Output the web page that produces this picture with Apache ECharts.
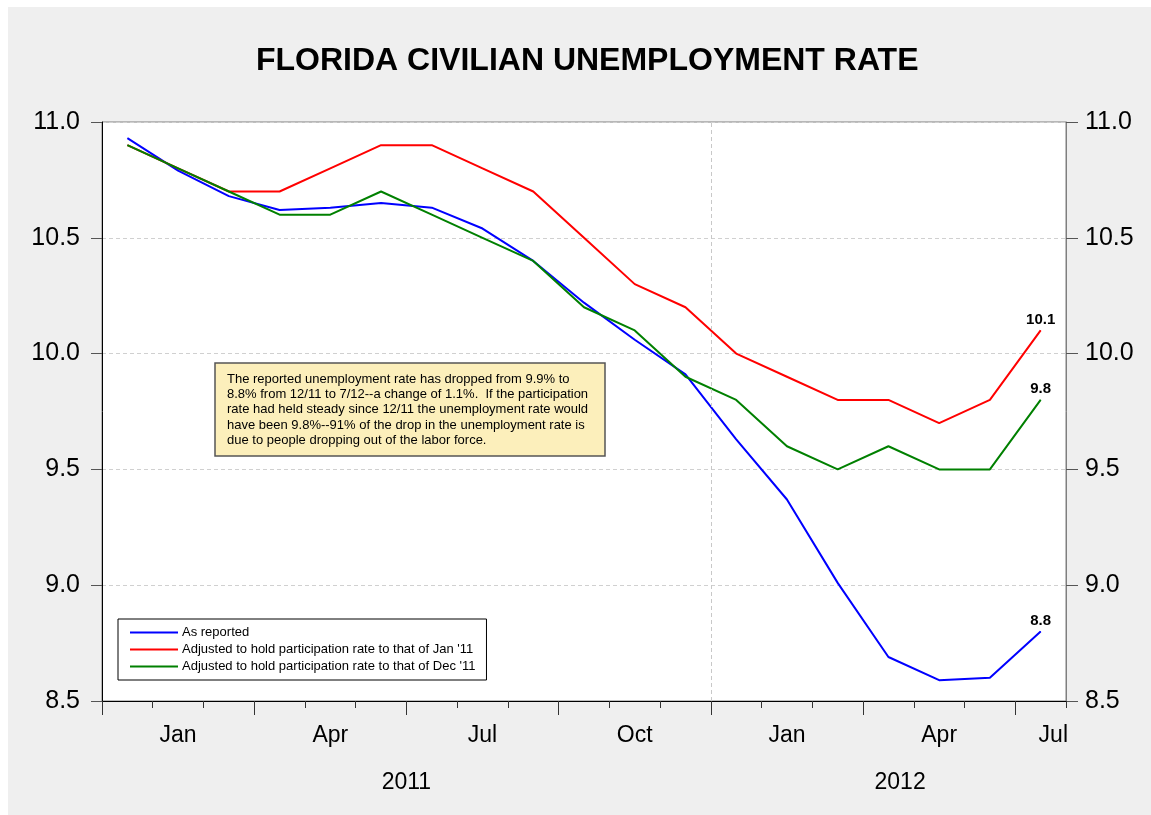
<!DOCTYPE html>
<html>
<head>
<meta charset="utf-8">
<script src="https://cdn.jsdelivr.net/npm/echarts@6/dist/echarts.min.js"></script>
<style>
html,body{margin:0;padding:0;background:#ffffff;}
#chart{width:1151px;height:815px;}
</style>
</head>
<body>
<div id="chart"></div>
<script>
// ---- data (Jan 2011 .. Jul 2012, monthly) ----
var months = ['Jan 2011','Feb 2011','Mar 2011','Apr 2011','May 2011','Jun 2011','Jul 2011','Aug 2011','Sep 2011','Oct 2011','Nov 2011','Dec 2011',
              'Jan 2012','Feb 2012','Mar 2012','Apr 2012','May 2012','Jun 2012','Jul 2012'];
var asReported = [10.93,10.79,10.68,10.62,10.63,10.65,10.63,10.54,10.40,10.22,10.06,9.91,9.63,9.37,9.01,8.69,8.59,8.60,8.80];
var adjJan11   = [10.9,10.8,10.7,10.7,10.8,10.9,10.9,10.8,10.7,10.5,10.3,10.2,10.0,9.9,9.8,9.8,9.7,9.8,10.1];
var adjDec11   = [10.9,10.8,10.7,10.6,10.6,10.7,10.6,10.5,10.4,10.2,10.1,9.9,9.8,9.6,9.5,9.6,9.5,9.5,9.8];
var seriesNames = ['As reported',"Adjusted to hold participation rate to that of Jan '11","Adjusted to hold participation rate to that of Dec '11"];
var quarterLabels = ['Jan','Apr','Jul','Oct','Jan','Apr','Jul'];
var yearLabels = ['2011','2012'];
var noteText = 'The reported unemployment rate has dropped from 9.9% to\n' +
  '8.8% from 12/11 to 7/12--a change of 1.1%.  If the participation\n' +
  'rate had held steady since 12/11 the unemployment rate would\n' +
  'have been 9.8%--91% of the drop in the unemployment rate is\n' +
  'due to people dropping out of the labor force.';

// ---- layout (positions on the month-index axis) ----
var quarterLabelPos = [1,4,7,10,13,16,18.25];
var yearLabelPos = [5.5,15.23];
var yearBoundary = 11.5;

var FONT = '"Liberation Sans", Arial, sans-serif';
var n = months.length;
var monthBounds = [];
for (var i = 0; i <= n; i++) monthBounds.push(i - 0.5);
var quarterBounds = [];
for (var j = 0; j < n; j += 3) quarterBounds.push(j - 0.5);

function findLabel(pos, labels, v) {
  for (var k = 0; k < pos.length; k++) if (Math.abs(pos[k] - v) < 1e-6) return labels[k];
  return '';
}
function mkData(vals) {
  return vals.map(function (v, i) {
    if (i === vals.length - 1) return { value: [i, v], symbol: 'circle', symbolSize: 1, label: { show: true } };
    return [i, v];
  });
}
var colors = ['#0000ff', '#ff0000', '#008000'];
var seriesVals = [asReported, adjJan11, adjDec11];

var chart = echarts.init(document.getElementById('chart'), null, { renderer: 'canvas' });
var series = seriesVals.map(function (vals, s) {
  var o = {
    name: seriesNames[s],
    type: 'line',
    xAxisIndex: 0,
    yAxisIndex: 0,
    data: mkData(vals),
    showSymbol: true,
    symbol: 'none',
    lineStyle: { color: colors[s], width: 2 },
    itemStyle: { color: colors[s] },
    animation: false,
    label: {
      show: false, position: 'top', distance: 3,
      fontFamily: FONT, fontSize: 15, fontWeight: 'bold', color: '#000',
      formatter: function (p) { return p.value[1].toFixed(1); }
    }
  };
  if (s === 0) {
    o.markLine = {
      silent: true, symbol: 'none', label: { show: false },
      lineStyle: { color: '#c8c8c8', type: [4, 3], width: 1 },
      data: [{ xAxis: yearBoundary }],
      animation: false
    };
  }
  return o;
});

chart.setOption({
  animation: false,
  textStyle: { fontFamily: FONT },
  graphic: [
    { type: 'rect', z: -10, silent: true, shape: { x: 8, y: 7, width: 1143, height: 808 }, style: { fill: '#efefef' } },
    {
      type: 'group', z: 100,
      children: [
        { type: 'rect', shape: { x: 215, y: 363, width: 390, height: 93 }, style: { fill: '#fcefbb', stroke: '#555555', lineWidth: 1.5 } },
        { type: 'text', x: 227, y: 371.5, style: { text: noteText, font: '13px ' + FONT, fill: '#000', lineHeight: 15.3, textVerticalAlign: 'top' } }
      ]
    }
  ],
  title: {
    text: 'FLORIDA CIVILIAN UNEMPLOYMENT RATE',
    left: 251, top: 40,
    textStyle: { fontFamily: FONT, fontSize: 32, fontWeight: 'bold', color: '#000' }
  },
  legend: {
    orient: 'vertical', left: 118, top: 619,
    data: seriesNames,
    icon: 'rect', itemWidth: 48, itemHeight: 2, itemGap: 2,
    padding: [6, 11, 6, 12],
    backgroundColor: '#ffffff', borderColor: '#000', borderWidth: 1,
    textStyle: { fontFamily: FONT, fontSize: 13, color: '#000', lineHeight: 15, padding: [0, 0, 0, -1] },
    selectedMode: false
  },
  grid: {
    left: 102, right: 85, top: 122, height: 579,
    show: true, backgroundColor: '#ffffff', borderColor: '#7f7f7f', borderWidth: 1
  },
  xAxis: [
    {
      type: 'value', min: -0.5, max: 18.5,
      axisLine: { show: true, onZero: false, lineStyle: { color: '#000', width: 1 } },
      axisTick: { show: true, inside: false, length: 7, customValues: monthBounds, lineStyle: { color: '#333' } },
      axisLabel: {
        show: true, customValues: quarterLabelPos, margin: 23,
        fontFamily: FONT, fontSize: 23, color: '#000',
        formatter: function (v) { return findLabel(quarterLabelPos, quarterLabels, v); }
      },
      splitLine: { show: false }
    },
    {
      type: 'value', min: -0.5, max: 18.5, position: 'bottom',
      axisLine: { show: false, onZero: false },
      axisTick: { show: true, inside: false, length: 14, customValues: quarterBounds, lineStyle: { color: '#333' } },
      axisLabel: {
        show: true, customValues: yearLabelPos, margin: 70,
        fontFamily: FONT, fontSize: 23, color: '#000',
        formatter: function (v) { return findLabel(yearLabelPos, yearLabels, v); }
      },
      splitLine: { show: false }
    }
  ],
  yAxis: [
    {
      type: 'value', min: 8.5, max: 11, interval: 0.5, position: 'left',
      axisLine: { show: true, onZero: false, lineStyle: { color: '#000' } },
      axisTick: { show: true, length: 11, lineStyle: { color: '#555' } },
      axisLabel: { margin: 22, fontFamily: FONT, fontSize: 25, color: '#000', formatter: function (v) { return v.toFixed(1); } },
      splitLine: { show: true, lineStyle: { color: '#d0d0d0', type: [4, 3], width: 1 } }
    },
    {
      type: 'value', min: 8.5, max: 11, interval: 0.5, position: 'right',
      axisLine: { show: true, onZero: false, lineStyle: { color: '#7f7f7f' } },
      axisTick: { show: true, length: 12, lineStyle: { color: '#555' } },
      axisLabel: { margin: 19, fontFamily: FONT, fontSize: 25, color: '#000', formatter: function (v) { return v.toFixed(1); } },
      splitLine: { show: false }
    }
  ],
  series: series
});
</script>
</body>
</html>
